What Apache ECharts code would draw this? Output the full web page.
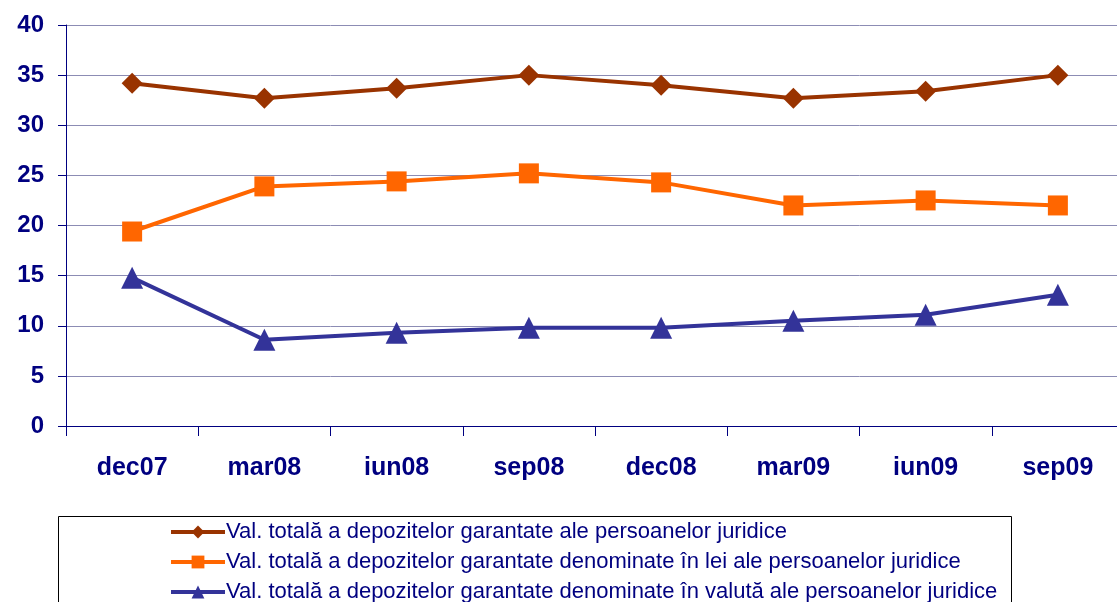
<!DOCTYPE html>
<html>
<head>
<meta charset="utf-8">
<script src="https://cdn.jsdelivr.net/npm/echarts@6/dist/echarts.min.js"></script>
<style>html,body{margin:0;padding:0;background:#fff;overflow:hidden}#c{width:1125px;height:602px}</style>
</head>
<body>
<div id="c"></div>
<script>
const categories = ['dec07','mar08','iun08','sep08','dec08','mar09','iun09','sep09'];
const seriesNames = [
  'Val. totală a depozitelor garantate ale persoanelor juridice',
  'Val. totală a depozitelor garantate denominate în lei ale persoanelor juridice',
  'Val. totală a depozitelor garantate denominate în valută ale persoanelor juridice'
];
const totalValues = [34.2, 32.7, 33.7, 35.0, 34.0, 32.7, 33.4, 35.0];
const leiValues = [19.4, 23.9, 24.4, 25.2, 24.3, 22.0, 22.5, 22.0];
const valutaValues = [14.8, 8.6, 9.3, 9.8, 9.8, 10.5, 11.1, 13.1];
const yTicks = [0, 5, 10, 15, 20, 25, 30, 35, 40];

const navy = '#000080';
const chart = echarts.init(document.getElementById('c'), null, {renderer: 'canvas'});
function mk(name, data, color, symbol, size) {
  return {
    name, type: 'line', data, symbol, symbolSize: size,
    lineStyle: {color, width: 4},
    itemStyle: {color},
    emphasis: {disabled: true},
    animation: false
  };
}
const legendTops = [516, 546, 576];
chart.setOption({
  animation: false,
  backgroundColor: '#fff',
  grid: {left: 66, top: 25, width: 1058, height: 401, containLabel: false},
  xAxis: {
    type: 'category', data: categories, boundaryGap: true,
    axisLine: {lineStyle: {color: navy, width: 1}},
    axisTick: {show: true, length: 10, lineStyle: {color: navy}},
    axisLabel: {color: navy, fontFamily: 'Liberation Sans', fontWeight: 'bold', fontSize: 25, margin: 30},
    splitLine: {show: false}
  },
  yAxis: {
    type: 'value', min: yTicks[0], max: yTicks[yTicks.length-1], interval: 5,
    axisLine: {show: true, lineStyle: {color: navy, width: 1}},
    axisTick: {show: true, length: 8, lineStyle: {color: navy}},
    axisLabel: {color: navy, fontFamily: 'Liberation Sans', fontWeight: 'bold', fontSize: 24, margin: 22},
    splitLine: {show: true, lineStyle: {color: '#8c8cb4', width: 1}}
  },
  legend: seriesNames.map((n, i) => ({
    orient: 'vertical', left: 164, top: legendTops[i],
    itemWidth: 54, itemHeight: 16, itemGap: 0,
    data: [n],
    lineStyle: {width: 4},
    textStyle: {color: navy, fontFamily: 'Liberation Sans', fontSize: 22, padding: [0,0,0,-4]},
    selectedMode: false
  })),
  graphic: [{
    type: 'rect', left: 56, top: 514,
    shape: {x: 0, y: 0, width: 953, height: 100},
    style: {fill: 'none', stroke: '#000', lineWidth: 1},
    silent: true
  }],
  series: [
    mk(seriesNames[0], totalValues, '#993300', 'diamond', 21),
    mk(seriesNames[1], leiValues, '#FF6600', 'rect', 20),
    mk(seriesNames[2], valutaValues, '#333399', 'triangle', 22)
  ]
});
</script>
</body>
</html>
